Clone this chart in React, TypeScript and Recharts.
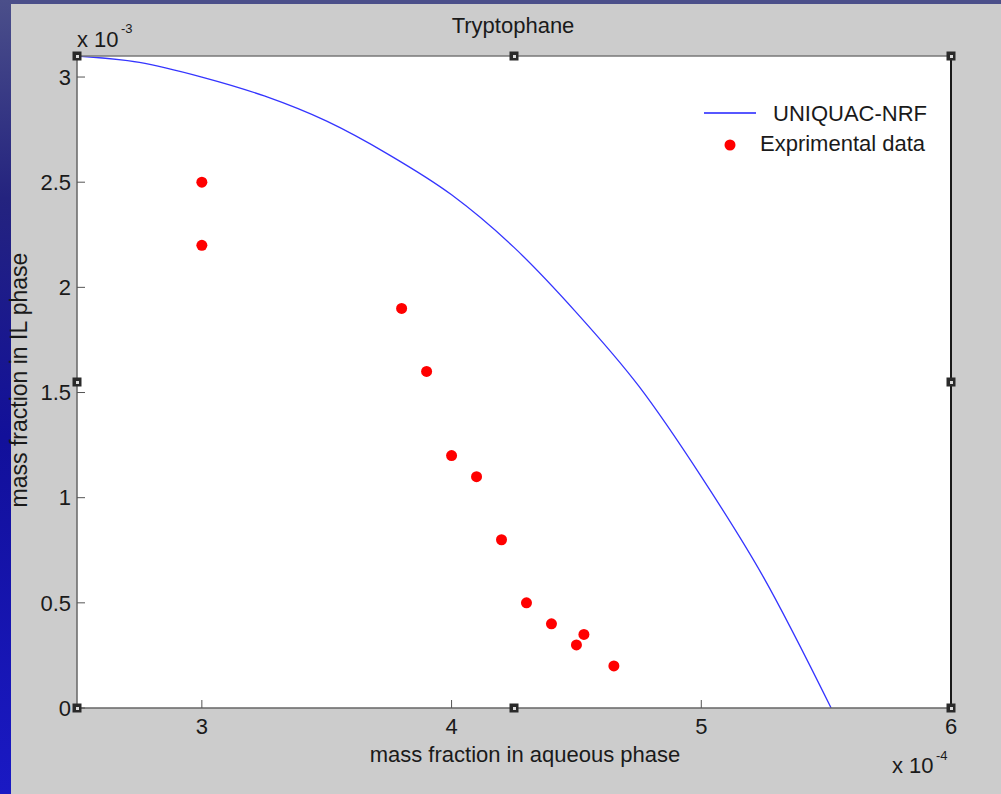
import React from 'react';
import { ComposedChart, Line, Scatter, XAxis, YAxis, ReferenceDot, Legend, CartesianGrid } from 'recharts';

// UNIQUAC-NRF model curve (x in 1e-4, y in 1e-3)
const curveX = [2.5, 2.75, 3.0, 3.25, 3.5, 3.75, 4.0, 4.25, 4.5, 4.75, 5.0, 5.25, 5.52];
const curveY = [3.1, 3.07, 3.0, 2.91, 2.79, 2.63, 2.44, 2.19, 1.88, 1.53, 1.1, 0.62, 0];

// Experimental data
const expX = [3.0, 3.0, 3.8, 3.9, 4.0, 4.1, 4.2, 4.3, 4.4, 4.5, 4.53, 4.65];
const expY = [2.5, 2.2, 1.9, 1.6, 1.2, 1.1, 0.8, 0.5, 0.4, 0.3, 0.35, 0.2];

const xTicks = [3, 4, 5, 6];
const yTicks = [0, 0.5, 1, 1.5, 2, 2.5, 3];
const yTickLabels = ['0', '0.5', '1', '1.5', '2', '2.5', '3'];
const xDomain: [number, number] = [2.5, 6];
const yDomain: [number, number] = [0, 3.1];

const handleX = [2.5, 4.25, 6];
const handleY = [0, 1.55, 3.1];

const FONT = '"Liberation Sans", Arial, Helvetica, sans-serif';

const curveData = curveX.map((x, i) => ({ x, y: curveY[i] }));
const expData = expX.map((x, i) => ({ x, y: expY[i] }));

const handles: { x: number; y: number }[] = [];
handleX.forEach((hx) =>
  handleY.forEach((hy) => {
    if (hx === 4.25 && hy === 1.55) return;
    handles.push({ x: hx, y: hy });
  })
);

const Handle = (props: any) => {
  const { cx, cy } = props;
  if (cx == null || cy == null) return null;
  return (
    <g>
      <rect x={cx - 4.5} y={cy - 4.5} width={9} height={9} fill="#2a2a2a" />
      <rect x={cx - 1} y={cy - 1} width={3} height={3} fill="#dddddd" />
    </g>
  );
};

const Dot = (props: any) => {
  const { cx, cy } = props;
  return <circle cx={cx} cy={cy} r={5.5} fill="#ff0000" />;
};

const LegendContent = () => (
  <svg width={270} height={80} style={{ overflow: 'visible' }}>
    <line x1={14} y1={23} x2={66} y2={23} stroke="#1f1fff" strokeWidth={1.6} />
    <text x={83} y={31} fontSize={22} fontFamily={FONT} fill="#1a1a1a">UNIQUAC-NRF</text>
    <circle cx={40} cy={55} r={5.5} fill="#ff0000" />
    <text x={70} y={61} fontSize={22} fontFamily={FONT} fill="#1a1a1a">Exprimental data</text>
  </svg>
);

const yTickFormatter = (v: number) => {
  const i = yTicks.indexOf(v);
  return i >= 0 ? yTickLabels[i] : String(v);
};

export default function App() {
  return (
    <div
      style={{
        position: 'absolute',
        left: 0,
        top: 0,
        width: 1001,
        height: 794,
        overflow: 'hidden',
        background: '#4b4f8a',
        fontFamily: FONT,
      }}
    >
      <div
        style={{
          position: 'absolute',
          left: 0,
          top: 0,
          width: 11,
          height: 794,
          background: 'linear-gradient(to bottom, #4b4f8a 0%, #24237f 25%, #12109a 55%, #1a19c4 100%)',
        }}
      />
      <div style={{ position: 'absolute', left: 11, top: 4, right: 0, bottom: 0, background: '#cccccc' }} />
      <div style={{ position: 'absolute', left: 0, top: 0 }}>
        <ComposedChart
          width={1001}
          height={794}
          data={curveData}
          margin={{ top: 26, right: 0, bottom: 56, left: 37 }}
        >
          <CartesianGrid horizontal={false} vertical={false} fill="#ffffff" />
          <XAxis
            xAxisId="bottom"
            type="number"
            dataKey="x"
            domain={xDomain}
            ticks={xTicks}
            allowDataOverflow
            height={30}
            tickSize={-8}
            tickMargin={18}
            axisLine={{ stroke: '#666666', strokeWidth: 1.5 }}
            tickLine={{ stroke: '#555555' }}
            tick={{ fill: '#1a1a1a', fontSize: 22, fontFamily: FONT }}
          />
          <XAxis
            xAxisId="top"
            orientation="top"
            type="number"
            dataKey="x"
            domain={xDomain}
            ticks={xTicks}
            allowDataOverflow
            height={30}
            tickSize={-8}
            axisLine={{ stroke: '#777777', strokeWidth: 1.5 }}
            tickLine={{ stroke: '#555555' }}
            tick={false}
          />
          <YAxis
            yAxisId="left"
            type="number"
            domain={yDomain}
            ticks={yTicks}
            allowDataOverflow
            width={40}
            tickSize={-8}
            tickMargin={14}
            tickFormatter={yTickFormatter}
            axisLine={{ stroke: '#666666', strokeWidth: 1.5 }}
            tickLine={{ stroke: '#555555' }}
            tick={{ fill: '#1a1a1a', fontSize: 22, fontFamily: FONT }}
          />
          <YAxis
            yAxisId="right"
            orientation="right"
            type="number"
            domain={yDomain}
            ticks={yTicks}
            allowDataOverflow
            width={50}
            tickSize={-8}
            axisLine={{ stroke: '#1a1a1a', strokeWidth: 2 }}
            tickLine={{ stroke: '#555555' }}
            tick={false}
          />
          <Line
            xAxisId="bottom"
            yAxisId="left"
            type="monotone"
            dataKey="y"
            stroke="#3535ff"
            strokeWidth={1.3}
            dot={false}
            activeDot={false}
            isAnimationActive={false}
            legendType="none"
          />
          <Scatter
            xAxisId="bottom"
            yAxisId="left"
            data={expData}
            dataKey="y"
            shape={<Dot />}
            isAnimationActive={false}
            legendType="none"
          />
          {handles.map((h, i) => (
            <ReferenceDot
              key={i}
              xAxisId="bottom"
              yAxisId="left"
              x={h.x}
              y={h.y}
              ifOverflow="visible"
              shape={<Handle />}
            />
          ))}
          <Legend
            layout="vertical"
            align="center"
            verticalAlign="middle"
            content={<LegendContent />}
            wrapperStyle={{ left: 690, top: 90, width: 270, height: 80 }}
          />
        </ComposedChart>
      </div>
      <svg
        width={1001}
        height={794}
        style={{ position: 'absolute', left: 0, top: 0, pointerEvents: 'none' }}
      >
        <text x={513} y={33} textAnchor="middle" fontSize={22} fontFamily={FONT} fill="#1a1a1a">
          Tryptophane
        </text>
        <text x={525} y={762} textAnchor="middle" fontSize={22} fontFamily={FONT} fill="#1a1a1a">
          mass fraction in aqueous phase
        </text>
        <text
          transform="translate(27, 380) rotate(-90)"
          textAnchor="middle"
          fontSize={23}
          fontFamily={FONT}
          fill="#1a1a1a"
        >
          mass fraction in IL phase
        </text>
        <text x={77} y={47} fontSize={22} fontFamily={FONT} fill="#1a1a1a">x 10</text>
        <text x={121} y={33} fontSize={13} fontFamily={FONT} fill="#1a1a1a">-3</text>
        <text x={892} y={773} fontSize={22} fontFamily={FONT} fill="#1a1a1a">x 10</text>
        <text x={936} y={760} fontSize={13} fontFamily={FONT} fill="#1a1a1a">-4</text>
      </svg>
    </div>
  );
}
